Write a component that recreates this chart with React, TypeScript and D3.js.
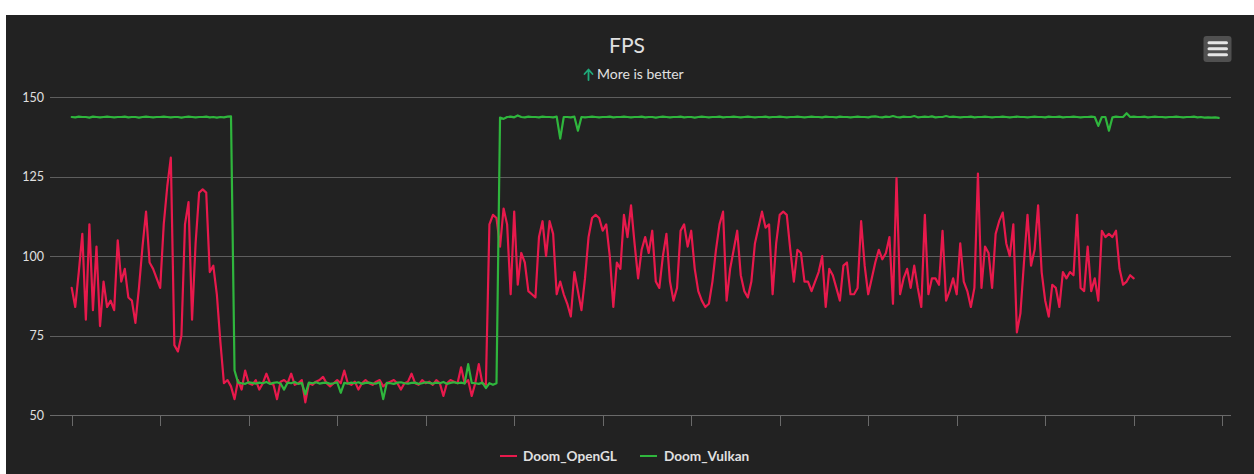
import React from "react";
import * as d3 from "d3";

const seriesNames = ["Doom_OpenGL", "Doom_Vulkan"];
const seriesColors = ["#e8194c", "#2fb63d"];
const yTicks = [50, 75, 100, 125, 150];
const xTicks = [0, 25, 50, 75, 100, 125, 150, 175, 200, 225, 250, 275, 300, 325];
const titleText = "FPS";
const subtitleText = "More is better";

const openGL = [
  90, 84, 95, 107, 80, 110, 83, 103, 78, 92,
  84, 86, 83, 105, 92, 96, 87, 86, 79, 90,
  103, 114, 98, 96, 93, 90, 110, 122, 131, 72,
  70, 75, 110, 117, 80, 104, 120, 121, 120, 95,
  97, 88, 73,
  60, 61, 59, 55, 61, 58, 64, 60, 59.5, 61,
  58, 60, 63, 60, 59.5, 55, 60.5, 61, 60, 63,
  59.5, 60, 61, 54, 60, 59.5, 60.5, 61, 62, 60,
  59, 60, 61, 60, 64, 60, 59.5, 60.5, 58, 60,
  61, 60, 59.5, 60.5, 61, 59, 60, 60.5, 61, 60,
  58, 60, 60.5, 63, 60, 59.5, 61, 60, 60.5, 59.5,
  61, 60, 56, 60, 61, 60.5, 60, 65, 60, 61,
  56, 60, 66, 60, 59.5,
  110, 113, 112, 103, 115, 110, 88, 114, 91, 101,
  98, 89, 88, 87, 106, 111, 100, 111, 107, 88,
  92, 88, 85, 81, 95, 89, 83, 93, 106, 112,
  113, 112, 108, 110, 100, 84, 98, 96, 113, 106,
  116, 104, 93, 102, 106, 101, 108, 92, 90, 100,
  107, 92, 86, 90, 108, 110, 103, 108, 96, 89,
  86, 84, 85, 92, 102, 110, 114, 86, 96, 102,
  108, 94, 89, 87, 92, 104, 109, 114, 109, 110,
  88, 104, 113, 114, 113, 102, 92, 102, 101, 92,
  92, 89, 92, 95, 100, 84, 96, 94, 90, 86,
  97, 98, 88, 88, 90, 111, 97, 88, 93, 98,
  102, 99, 101, 106, 85, 124.6, 88, 93, 96, 90,
  97, 90, 84, 113, 88, 93, 93, 91, 108, 86,
  89, 93, 88, 104, 92, 89, 84, 90, 126, 90,
  103, 101, 90, 107, 111, 113.7, 104, 100, 110, 76,
  82, 98, 113, 97, 102, 116, 95, 86, 81, 91,
  90, 84, 95, 93, 95, 94, 113, 90, 89, 103,
  89, 93, 86, 108, 106, 107, 106, 108, 96, 91,
  92, 94, 93,
];

const vulkan = [
  143.8, 143.7, 143.9, 143.8, 143.8, 143.6, 143.9, 143.8, 143.7, 143.8,
  143.9, 143.8, 143.7, 143.8, 143.8, 143.9, 143.7, 143.8, 143.8, 143.6,
  143.8, 143.9, 143.8, 143.7, 143.8, 143.8, 143.9, 143.8, 143.7, 143.8,
  143.8, 143.6, 143.8, 143.9, 143.8, 143.7, 143.8, 143.8, 143.9, 143.7,
  143.8, 143.6, 143.8, 143.7, 143.9, 144.0,
  64,
  60.2, 60, 59.8, 60.3, 60.1, 59.9, 60.2, 60, 60.4, 59.8,
  60.1, 60.3, 59.9, 58, 60.2, 60, 60.4, 59.8, 60.1, 56.5,
  60.2, 60, 60.3, 59.9, 60.1, 60.2, 59.8, 60, 60.3, 57,
  60.1, 59.9, 60.2, 60, 60.3, 59.8, 60.1, 60.2, 60, 59.9,
  60.3, 55, 60.1, 60, 59.8, 60.2, 60.3, 60, 59.9, 60.1,
  60.2, 59.8, 60, 60.3, 60.1, 59.9, 60.2, 60, 60.4, 59.8,
  60.1, 60.3, 60, 60.2, 59.9, 66, 60.1, 60, 59.8, 60.2,
  58.5, 60, 59.5, 60,
  143.6, 143.2, 143.8, 143.9, 143.7, 144.3, 143.8, 143.7, 143.9, 143.8,
  143.8, 143.7, 143.9, 143.8, 143.8, 143.7, 143.9, 137, 143.8, 143.8,
  143.7, 143.9, 139.5, 143.8, 143.7, 143.8, 143.9, 143.8, 143.7, 143.8,
  143.8, 143.9, 143.7, 143.8, 143.8, 143.9, 143.8, 143.7, 143.8, 143.8,
  143.9, 143.7, 143.8, 143.8, 143.6, 143.8, 143.9, 143.8, 143.7, 143.8,
  143.8, 143.9, 143.7, 143.8, 143.8, 143.6, 143.8, 143.9, 143.8, 143.7,
  143.8, 143.8, 143.9, 143.7, 143.8, 143.8, 143.9, 143.8, 143.7, 143.8,
  143.9, 143.8, 143.7, 143.8, 143.8, 143.9, 143.7, 143.8, 143.8, 143.9,
  143.8, 143.7, 143.8, 143.8, 143.9, 143.8, 143.7, 143.8, 143.9, 143.8,
  143.8, 143.7, 143.9, 143.8, 143.8, 143.7, 143.9, 143.8, 143.8, 143.7,
  143.8, 143.9, 143.8, 143.8, 143.7, 143.9, 144.0, 143.8, 143.7, 143.9,
  143.8, 144.1, 143.8, 143.7, 143.9, 143.8, 143.8, 144.1, 143.7, 143.8,
  143.9, 143.8, 144.0, 143.7, 143.8, 143.8, 144.1, 143.8, 143.9, 143.8,
  143.7, 143.8, 143.8, 143.9, 143.7, 143.8, 143.8, 143.9, 143.8, 143.7,
  143.8, 143.8, 143.9, 143.8, 143.7, 143.8, 143.9, 143.8, 143.8, 143.7,
  143.8, 143.9, 143.8, 143.8, 143.7, 143.9, 143.8, 143.8, 143.9, 143.7,
  143.8, 143.8, 143.9, 143.8, 143.7, 143.8, 143.8, 143.9, 143.8, 141,
  143.8, 143.8, 139.5, 143.7, 143.9, 143.8, 143.8, 145, 143.8, 143.9,
  143.8, 143.8, 143.9, 143.7, 143.8, 143.9, 143.8, 143.8, 143.7, 143.8,
  143.8, 143.9, 143.8, 143.7, 143.8, 143.8, 143.9, 143.7, 143.8, 143.6,
  143.7, 143.6, 143.7, 143.5,
];

const seriesData = [openGL, vulkan];

export default function App() {
  const W = 1254;
  const H = 474;
  const plotLeft = 50;
  const plotRight = 1231;
  const x = d3.scaleLinear().domain([0, 325]).range([71.7, 1222.2]);
  const y = d3.scaleLinear().domain([50, 150]).range([415, 97.3]);
  const line = d3
    .line<number>()
    .x((_, i) => x(i))
    .y((d) => y(d));
  const font = "Lato, 'Open Sans', sans-serif";
  const gridColor = "#5e5e5e";
  const textColor = "#e0e0e0";

  const legendItems = [
    { sx: 500, tx: 523 },
    { sx: 640, tx: 664 },
  ];

  return (
    <svg
      width={W}
      height={H}
      style={{ position: "absolute", left: 0, top: 0 }}
      fontFamily={font}
    >
      <rect width={W} height={H} fill="#ffffff" />
      <rect x={6} y={15} width={W - 6} height={H - 15} fill="#222222" />

      {/* title */}
      <text x={627} y={53} textAnchor="middle" fontSize={21} fill={textColor}>
        {titleText}
      </text>
      <g>
        <text x={597} y={79} fontSize={14} fill={textColor}>
          {subtitleText}
        </text>
        <path
          d="M588.5 80 L588.5 70 M584.5 74 L588.5 69.5 L592.5 74"
          stroke="#1faa7a"
          strokeWidth={1.8}
          fill="none"
          strokeLinecap="round"
          strokeLinejoin="round"
        />
      </g>

      {/* menu button */}
      <rect x={1203.5} y={36} width={28} height={26} rx={3} fill="#505050" />
      {[42.7, 48.7, 54.7].map((ly) => (
        <line
          key={ly}
          x1={1209}
          x2={1226.5}
          y1={ly}
          y2={ly}
          stroke="#e6e6e6"
          strokeWidth={3}
          strokeLinecap="round"
        />
      ))}

      {/* grid + y labels */}
      {yTicks.map((t) => (
        <g key={t}>
          {t !== 50 && (
            <line
              x1={plotLeft}
              x2={plotRight}
              y1={Math.round(y(t)) + 0.5}
              y2={Math.round(y(t)) + 0.5}
              stroke={gridColor}
              strokeWidth={1}
            />
          )}
          <text
            x={44}
            y={y(t) + 4.5}
            textAnchor="end"
            fontSize={12.5}
            fill={textColor}
          >
            {t}
          </text>
        </g>
      ))}

      {/* x axis */}
      <line
        x1={plotLeft}
        x2={plotRight}
        y1={415.5}
        y2={415.5}
        stroke="#6a6a6a"
        strokeWidth={1}
      />
      {xTicks.map((t) => (
        <line
          key={t}
          x1={Math.round(x(t)) + 0.5}
          x2={Math.round(x(t)) + 0.5}
          y1={415}
          y2={426}
          stroke="#6a6a6a"
          strokeWidth={1}
        />
      ))}

      {/* series */}
      {seriesData.map((d, si) => (
        <path
          key={si}
          d={line(d) || ""}
          fill="none"
          stroke={seriesColors[si]}
          strokeWidth={2.2}
          strokeLinejoin="round"
          strokeLinecap="round"
        />
      ))}

      {/* legend */}
      {legendItems.map((it, si) => (
        <g key={si}>
          <line
            x1={it.sx}
            x2={it.sx + 17}
            y1={456}
            y2={456}
            stroke={seriesColors[si]}
            strokeWidth={2}
          />
          <text
            x={it.tx}
            y={460.5}
            fontSize={13.6}
            fontWeight="bold"
            fill={textColor}
          >
            {seriesNames[si]}
          </text>
        </g>
      ))}
    </svg>
  );
}
